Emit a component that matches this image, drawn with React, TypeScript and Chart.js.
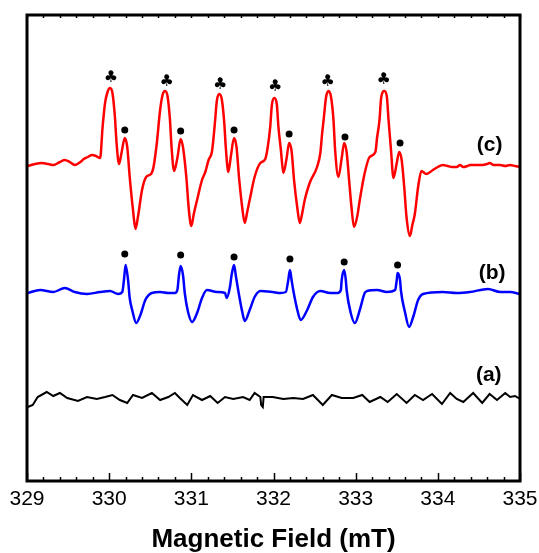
import React, { useEffect, useRef } from "react";
import { Chart, registerables } from "chart.js";

Chart.register(...registerables);

// ---- Trace (c): red ----
const fieldC = [
  329.01, 329.10, 329.18, 329.26, 329.32, 329.40, 329.46, 329.52, 329.58, 329.65, 329.69, 329.74, 329.79, 329.84, 329.89,
  329.92, 329.95, 329.98, 330.01, 330.04, 330.07, 330.09, 330.12, 330.15, 330.19, 330.22, 330.25, 330.29, 330.32, 330.35,
  330.40, 330.45, 330.51, 330.54, 330.58, 330.62, 330.65,
  330.68, 330.71, 330.74, 330.76, 330.79, 330.83, 330.87, 330.90, 330.94, 330.97, 331.00, 331.03, 331.07, 331.13, 331.17,
  331.21, 331.25, 331.27, 331.29, 331.31,
  331.34, 331.37, 331.40, 331.42, 331.45, 331.48, 331.52, 331.55, 331.58, 331.62, 331.65, 331.68, 331.71, 331.77, 331.84,
  331.90, 331.93, 331.96, 331.98,
  332.01, 332.04, 332.06, 332.09, 332.12, 332.16, 332.19, 332.22, 332.25, 332.29, 332.32, 332.35, 332.38, 332.44, 332.53,
  332.57, 332.59, 332.61, 332.64,
  332.67, 332.70, 332.73, 332.75, 332.79, 332.83, 332.86, 332.89, 332.92, 332.95, 332.98, 333.02, 333.05, 333.11, 333.17,
  333.24, 333.26, 333.29, 333.31,
  333.35, 333.38, 333.40, 333.43, 333.46, 333.50, 333.53, 333.56, 333.59, 333.62, 333.66, 333.69, 333.72, 333.76, 333.80,
  333.86, 333.94, 334.00,
  334.06, 334.12, 334.17, 334.23, 334.27, 334.31, 334.36, 334.39, 334.46, 334.54, 334.60, 334.63, 334.68, 334.76, 334.82,
  334.88, 334.94, 335.00,
];
const intensityC = [
  315, 317, 318, 317, 316, 319, 321, 319, 316, 319, 322, 324, 326, 325, 323,
  354, 378, 389, 393, 388, 364, 338, 317, 328, 343, 334, 304, 271, 252, 264,
  291, 304, 307, 314, 338, 371, 386,
  390, 385, 361, 333, 310, 323, 342, 333, 303, 271, 255, 267, 281, 301, 309,
  321, 329, 343, 361, 380,
  387, 382, 359, 333, 309, 324, 343, 334, 304, 273, 258, 269, 281, 304, 318,
  322, 334, 354, 376,
  383, 377, 354, 331, 308, 323, 338, 330, 301, 273, 258, 268, 281, 298, 314,
  328, 346, 361, 384,
  390, 384, 361, 331, 304, 323, 338, 329, 301, 273, 254, 265, 281, 308, 324,
  329, 343, 361, 383,
  390, 384, 361, 331, 303, 318, 329, 321, 295, 263, 245, 256, 267, 294, 310,
  307, 311, 314,
  316, 315, 314, 314, 316, 314, 315, 316, 316, 316, 317, 318, 316, 316, 315,
  316, 315, 314,
];

// ---- Trace (b): blue ----
const fieldB = [
  329.01, 329.16, 329.32, 329.46, 329.58, 329.73, 329.89, 330.01, 330.11, 330.16, 330.18, 330.20, 330.23, 330.25, 330.28, 330.33,
  330.38, 330.44, 330.52, 330.62, 330.72, 330.80, 330.83, 330.85, 330.87, 330.90, 330.92, 330.96, 331.01, 331.07, 331.13, 331.19,
  331.31, 331.41, 331.43, 331.47, 331.49, 331.52, 331.54, 331.57, 331.62, 331.65, 331.71, 331.77, 331.84, 331.99, 332.08, 332.15,
  332.18, 332.20, 332.22, 332.24, 332.29, 332.33, 332.41, 332.48, 332.57, 332.69, 332.78, 332.82, 332.83, 332.86, 332.88, 332.89,
  332.94, 332.99, 333.05, 333.11, 333.14, 333.26, 333.38, 333.48, 333.50, 333.51, 333.54, 333.55, 333.60, 333.65, 333.70, 333.76,
  333.82, 334.06, 334.23, 334.39, 334.61, 334.76, 334.88, 335.00,
];
const intensityB = [
  188, 191, 189, 193, 189, 187, 189, 190, 187, 189, 201, 216, 201, 183, 171, 158,
  166, 181, 188, 189, 188, 188, 191, 206, 215, 205, 188, 169, 159, 168, 183, 191,
  189, 188, 183, 194, 206, 216, 206, 191, 169, 160, 171, 184, 190, 189, 188, 189,
  201, 211, 201, 191, 171, 161, 171, 184, 190, 188, 188, 191, 201, 211, 201, 191,
  168, 158, 171, 188, 190, 191, 189, 191, 201, 208, 201, 191, 169, 154, 164, 181,
  187, 189, 188, 189, 192, 189, 189, 187,
];

// ---- Trace (a): black ----
const fieldA = [
  329.01, 329.07, 329.13, 329.24, 329.32, 329.40, 329.49, 329.62, 329.73, 329.85, 329.95, 330.04, 330.13, 330.22, 330.29, 330.40,
  330.52, 330.62, 330.72, 330.80, 330.86, 330.95, 331.02, 331.13, 331.23, 331.32, 331.41, 331.51, 331.63, 331.71, 331.77, 331.84,
  331.85, 331.87, 331.88, 331.99, 332.12, 332.24, 332.36, 332.48, 332.60, 332.71, 332.83, 332.97, 333.08, 333.17, 333.30, 333.39,
  333.50, 333.62, 333.72, 333.82, 333.93, 334.05, 334.15, 334.23, 334.31, 334.43, 334.54, 334.63, 334.72, 334.82, 334.88, 334.94,
  335.00,
];
const intensityA = [
  74, 76, 84, 89, 85, 88, 83, 80, 84, 82, 84, 86, 81, 78, 86, 83,
  88, 81, 84, 88, 83, 76, 86, 81, 85, 78, 84, 82, 84, 81, 88, 84,
  76, 74, 84, 84, 82, 83, 82, 86, 76, 86, 83, 83, 86, 79, 84, 79,
  87, 78, 86, 81, 87, 77, 88, 82, 79, 88, 78, 87, 81, 88, 84, 85,
  82,
];

// ---- Markers ----
const dotFieldC = [330.19, 330.87, 331.52, 332.19, 332.87, 333.54];
const dotIntensityC = [351, 350, 351, 347, 344, 338];
const clubField = [330.02, 330.70, 331.35, 332.02, 332.66, 333.34];
const clubIntensity = [403, 399, 396, 394, 399, 401];
const dotFieldB = [330.19, 330.87, 331.52, 332.20, 332.86, 333.51];
const dotIntensityB = [227, 226, 224, 222, 219, 216];

// ---- Trace labels ----
const traceLabels = ["(a)", "(b)", "(c)"];
const traceLabelField = [334.62, 334.66, 334.63];
const traceLabelIntensity = [106, 208, 336];

// ---- Axis ----
const fieldMin = 329;
const fieldMax = 335;
const majorStep = 1;
const minorStep = 0.2;
const axisTitle = "Magnetic Field (mT)";

const pairs = (xs: number[], ys: number[]) => xs.map((x, i) => ({ x, y: ys[i] }));

const decorPlugin = {
  id: "decor",
  afterDatasetsDraw(chart: any) {
    const { ctx, chartArea, scales } = chart;
    const { left, right, top, bottom } = chartArea;
    const xs = scales.x;
    const ys = scales.y;
    ctx.save();
    ctx.strokeStyle = "#000";
    ctx.lineWidth = 1.5;
    const n = Math.round((fieldMax - fieldMin) / minorStep);
    for (let i = 0; i <= n; i++) {
      const v = fieldMin + i * minorStep;
      const px = Math.round(xs.getPixelForValue(v)) + 0.5;
      const isMajor = Math.abs(v / majorStep - Math.round(v / majorStep)) < 1e-6;
      const len = isMajor ? 8 : 4;
      ctx.beginPath();
      ctx.moveTo(px, bottom);
      ctx.lineTo(px, bottom - len);
      ctx.stroke();
      ctx.beginPath();
      ctx.moveTo(px, top);
      ctx.lineTo(px, top + 3);
      ctx.stroke();
    }
    ctx.lineWidth = 3;
    ctx.strokeRect(left, top, right - left, bottom - top);
    ctx.fillStyle = "#000";
    ctx.textAlign = "center";
    ctx.textBaseline = "middle";
    ctx.font = "16px 'DejaVu Sans'";
    clubField.forEach((f, i) => {
      ctx.fillText("\u2663", xs.getPixelForValue(f), ys.getPixelForValue(clubIntensity[i]));
    });
    ctx.font = "bold 21px 'Liberation Sans', Arial, sans-serif";
    traceLabels.forEach((t, i) => {
      ctx.fillText(t, xs.getPixelForValue(traceLabelField[i]), ys.getPixelForValue(traceLabelIntensity[i]));
    });
    ctx.restore();
  },
};

export default function App() {
  const ref = useRef<HTMLCanvasElement | null>(null);
  useEffect(() => {
    document.body.style.margin = "0";
    const canvas = ref.current;
    if (!canvas) return;
    const chart = new Chart(canvas, {
      type: "scatter",
      data: {
        datasets: [
          {
            label: "dotsC",
            data: pairs(dotFieldC, dotIntensityC),
            showLine: false,
            pointRadius: 3.5,
            pointBackgroundColor: "#000",
            pointBorderWidth: 0,
          },
          {
            label: "dotsB",
            data: pairs(dotFieldB, dotIntensityB),
            showLine: false,
            pointRadius: 3.5,
            pointBackgroundColor: "#000",
            pointBorderWidth: 0,
          },
          {
            label: "(c)",
            data: pairs(fieldC, intensityC),
            showLine: true,
            borderColor: "#ff0000",
            borderWidth: 2.5,
            pointRadius: 0,
            cubicInterpolationMode: "monotone",
          },
          {
            label: "(b)",
            data: pairs(fieldB, intensityB),
            showLine: true,
            borderColor: "#0000ff",
            borderWidth: 2.5,
            pointRadius: 0,
            cubicInterpolationMode: "monotone",
          },
          {
            label: "(a)",
            data: pairs(fieldA, intensityA),
            showLine: true,
            borderColor: "#000000",
            borderWidth: 2,
            pointRadius: 0,
            tension: 0,
          },
        ],
      },
      options: {
        animation: false,
        responsive: false,
        events: [],
        layout: { padding: { left: 27, right: 19, top: 15, bottom: 0 } },
        plugins: { legend: { display: false }, tooltip: { enabled: false } },
        scales: {
          x: {
            type: "linear",
            min: fieldMin,
            max: fieldMax,
            grid: { display: false, drawTicks: false },
            border: { display: false },
            ticks: {
              stepSize: majorStep,
              autoSkip: false,
              maxRotation: 0,
              padding: 6,
              color: "#000",
              font: { family: "'Liberation Sans', Arial, sans-serif", size: 21 },
              callback: (v: any) => String(v),
            },
            title: {
              display: true,
              text: axisTitle,
              color: "#000",
              font: { family: "'Liberation Sans', Arial, sans-serif", size: 26, weight: "bold" },
              padding: { top: 0, bottom: -2 },
            },
            afterFit: (scale: any) => {
              scale.height = 72;
              scale.paddingLeft = 0;
              scale.paddingRight = 0;
            },
          },
          y: {
            type: "linear",
            display: false,
            min: 0,
            max: 466,
          },
        },
      },
      plugins: [decorPlugin],
    });
    return () => chart.destroy();
  }, []);
  return (
    <div style={{ width: 539, height: 553 }}>
      <canvas ref={ref} width={539} height={553} style={{ display: "block" }} />
    </div>
  );
}
